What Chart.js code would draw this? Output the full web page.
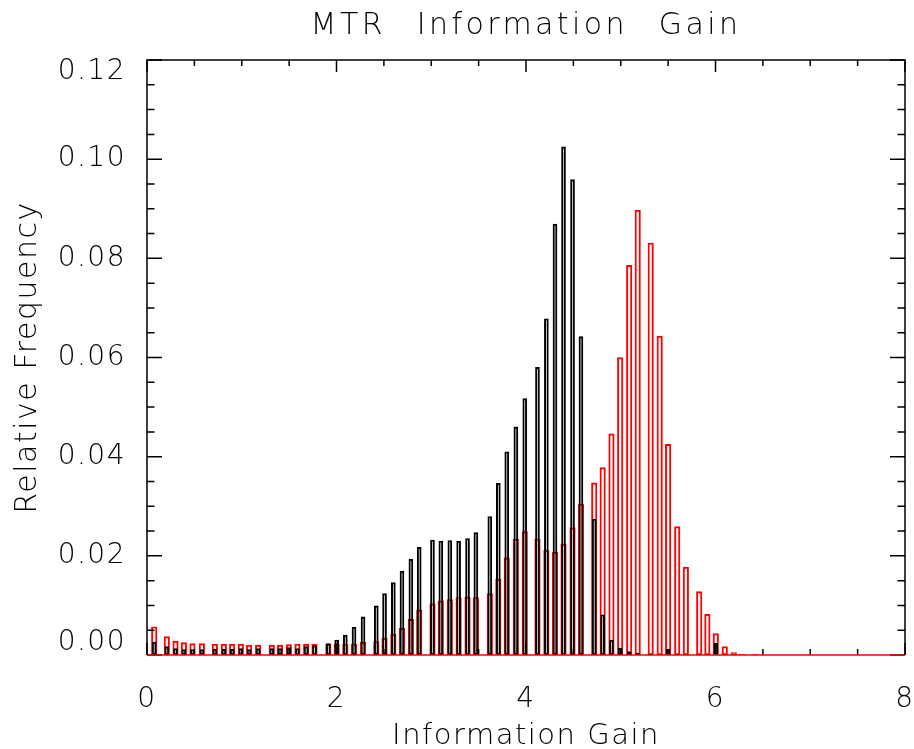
<!DOCTYPE html>
<html>
<head>
<meta charset="utf-8">
<script src="https://cdn.jsdelivr.net/npm/chart.js@4/dist/chart.umd.min.js"></script>
<style>
  html, body { margin: 0; padding: 0; background: #fff; }
  #wrap { width: 914px; height: 749px; position: relative; }
</style>
</head>
<body>
<div id="wrap"><canvas id="chart"></canvas></div>
<script>
const chartTitle = "MTR Information Gain";
const xTitle = "Information Gain";
const yTitle = "Relative Frequency";

// bin positions (same bins for both histograms)
const binCenters = [
  0.076, 0.209, 0.301, 0.389, 0.480, 0.579, 0.716, 0.811, 0.899, 0.990,
  1.078, 1.173, 1.317, 1.404, 1.497, 1.588, 1.680, 1.768, 1.914, 2.002,
  2.093, 2.185, 2.280, 2.420, 2.507, 2.600, 2.691, 2.785, 2.873, 3.013,
  3.101, 3.196, 3.289, 3.383, 3.471, 3.618, 3.708, 3.797, 3.893, 3.987,
  4.121, 4.215, 4.306, 4.396, 4.491, 4.580, 4.720, 4.809, 4.902, 4.994,
  5.089, 5.179, 5.316, 5.411, 5.500, 5.596, 5.687, 5.828, 5.914, 6.003,
  6.098, 6.193, 6.281, 6.420
];

const blackFreq = [
  0.0026, 0.0017, 0.0013, 0.0011, 0.0011, 0.0011, 0.0012, 0.0012, 0.0012, 0.0013,
  0.0011, 0.0013, 0.0013, 0.0013, 0.0015, 0.0013, 0.0017, 0.0019, 0.0023, 0.0030,
  0.0040, 0.0056, 0.0077, 0.0099, 0.0124, 0.0146, 0.0169, 0.0193, 0.0217, 0.0232,
  0.0230, 0.0231, 0.0229, 0.0235, 0.0247, 0.0279, 0.0346, 0.0410, 0.0460, 0.0517,
  0.0580, 0.0678, 0.0869, 0.1025, 0.0959, 0.0642, 0.0274, 0.0081, 0.0030, 0.0014,
  0.0007, 0.0004, 0.0002, 0.0000, 0.0012, 0.0000, 0.0000, 0.0000, 0.0000, 0.0024,
  0.0000, 0.0000, 0.0000, 0.0000
];

const redFreq = [
  0.0057, 0.0037, 0.0028, 0.0025, 0.0023, 0.0023, 0.0022, 0.0022, 0.0022, 0.0022,
  0.0020, 0.0020, 0.0020, 0.0020, 0.0021, 0.0022, 0.0022, 0.0022, 0.0022, 0.0022,
  0.0022, 0.0022, 0.0026, 0.0027, 0.0034, 0.0042, 0.0054, 0.0072, 0.0091, 0.0103,
  0.0109, 0.0112, 0.0116, 0.0117, 0.0116, 0.0124, 0.0153, 0.0196, 0.0234, 0.0249,
  0.0234, 0.0211, 0.0207, 0.0224, 0.0257, 0.0305, 0.0347, 0.0378, 0.0446, 0.0600,
  0.0786, 0.0897, 0.0831, 0.0643, 0.0425, 0.0259, 0.0177, 0.0128, 0.0082, 0.0043,
  0.0017, 0.0005, 0.0002, 0.0002
];

const xRange = [0, 8];
const yRange = [0, 0.12];
const xStep = 2;
const yStep = 0.02;

const FONT = '"DejaVu Sans", sans-serif';
const RED = "#ff0000";

// IDL-style box with inward major/minor ticks, plus the title
const idlFrame = {
  id: "idlFrame",
  beforeDraw(chart) {
    // the vector font of the original is spaced wider than DejaVu
    chart.ctx.letterSpacing = "1.5px";
  },
  afterDatasetsDraw(chart) {
    const { ctx, chartArea: a, scales: { x, y } } = chart;
    ctx.save();
    ctx.strokeStyle = "#000";
    ctx.lineWidth = 1.5;
    ctx.beginPath();
    const nx = Math.round((x.max - x.min) / (xStep / 4));
    for (let i = 0; i <= nx; i++) {
      const px = x.getPixelForValue(x.min + i * xStep / 4);
      const len = i % 4 === 0 ? 12 : 6;
      ctx.moveTo(px, a.bottom); ctx.lineTo(px, a.bottom - len);
      ctx.moveTo(px, a.top); ctx.lineTo(px, a.top + len);
    }
    const ny = Math.round((y.max - y.min) / (yStep / 4));
    for (let i = 0; i <= ny; i++) {
      const py = y.getPixelForValue(y.min + i * yStep / 4);
      const len = i % 4 === 0 ? 15 : 7.5;
      ctx.moveTo(a.left, py); ctx.lineTo(a.left + len, py);
      ctx.moveTo(a.right, py); ctx.lineTo(a.right - len, py);
    }
    ctx.stroke();
    ctx.beginPath();
    ctx.moveTo(a.left, a.bottom); ctx.lineTo(a.left, a.top);
    ctx.lineTo(a.right, a.top); ctx.lineTo(a.right, a.bottom);
    ctx.stroke();
    // the red histogram's baseline runs along the whole bottom axis
    ctx.strokeStyle = RED;
    ctx.beginPath();
    ctx.moveTo(a.left, a.bottom); ctx.lineTo(a.right, a.bottom);
    ctx.stroke();
    ctx.restore();
  },
  afterDraw(chart) {
    const { ctx, chartArea: a } = chart;
    ctx.save();
    ctx.font = "200 30px " + FONT;
    ctx.fillStyle = "#000";
    ctx.textAlign = "center";
    ctx.textBaseline = "middle";
    ctx.letterSpacing = "3.4px";
    ctx.wordSpacing = "18px";
    ctx.fillText(chartTitle, (a.left + a.right) / 2, 26);
    ctx.restore();
  }
};

new Chart(document.getElementById("chart"), {
  type: "bar",
  data: {
    datasets: [
      {
        data: binCenters.map((x, i) => ({ x, y: blackFreq[i] })),
        borderColor: "#000",
        backgroundColor: "rgba(0,0,0,0)",
        borderWidth: 1.3,
        barThickness: 4,
        borderSkipped: false
      },
      {
        data: binCenters.map((x, i) => ({ x, y: redFreq[i] })),
        borderColor: RED,
        backgroundColor: "rgba(0,0,0,0)",
        borderWidth: 1.3,
        barThickness: 5.5,
        borderSkipped: false
      }
    ]
  },
  options: {
    responsive: true,
    maintainAspectRatio: false,
    animation: false,
    events: [],
    layout: { padding: { top: 60, right: 9, left: 0, bottom: 0 } },
    datasets: { bar: { grouped: false } },
    plugins: { legend: { display: false }, tooltip: { enabled: false } },
    scales: {
      x: {
        type: "linear",
        min: xRange[0],
        max: xRange[1],
        offset: false,
        grid: { display: false },
        border: { display: false },
        ticks: {
          stepSize: xStep,
          color: "#000",
          padding: 20,
          font: { family: FONT, size: 28, weight: 200 },
          callback: v => String(v)
        },
        title: {
          display: true,
          text: xTitle,
          color: "#000",
          font: { family: FONT, size: 29, weight: 200, lineHeight: 0.85 },
          padding: { top: 0, bottom: 0 }
        },
        afterFit: s => {
          s.height = 94;
          s.paddingLeft = 0;
          s.paddingRight = 0;
        }
      },
      y: {
        min: yRange[0],
        max: yRange[1],
        grid: { display: false },
        border: { display: false },
        ticks: {
          stepSize: yStep,
          color: "#000",
          padding: 13,
          font: { family: FONT, size: 28, weight: 200, lineHeight: 0.86 },
          // end labels sit inside the frame, as in the original
          callback: (v, i, ticks) => {
            const s = v.toFixed(2);
            if (i === 0) return [s, ""];
            if (i === ticks.length - 1) return ["", s];
            return s;
          }
        },
        title: {
          display: true,
          text: yTitle,
          color: "#000",
          font: { family: FONT, size: 30, weight: 200 },
          padding: { top: 10, bottom: 0 }
        },
        afterFit: s => {
          s.width = 147;
          s.paddingTop = 0;
          s.paddingBottom = 0;
        }
      }
    }
  },
  plugins: [idlFrame]
});
</script>
</body>
</html>
